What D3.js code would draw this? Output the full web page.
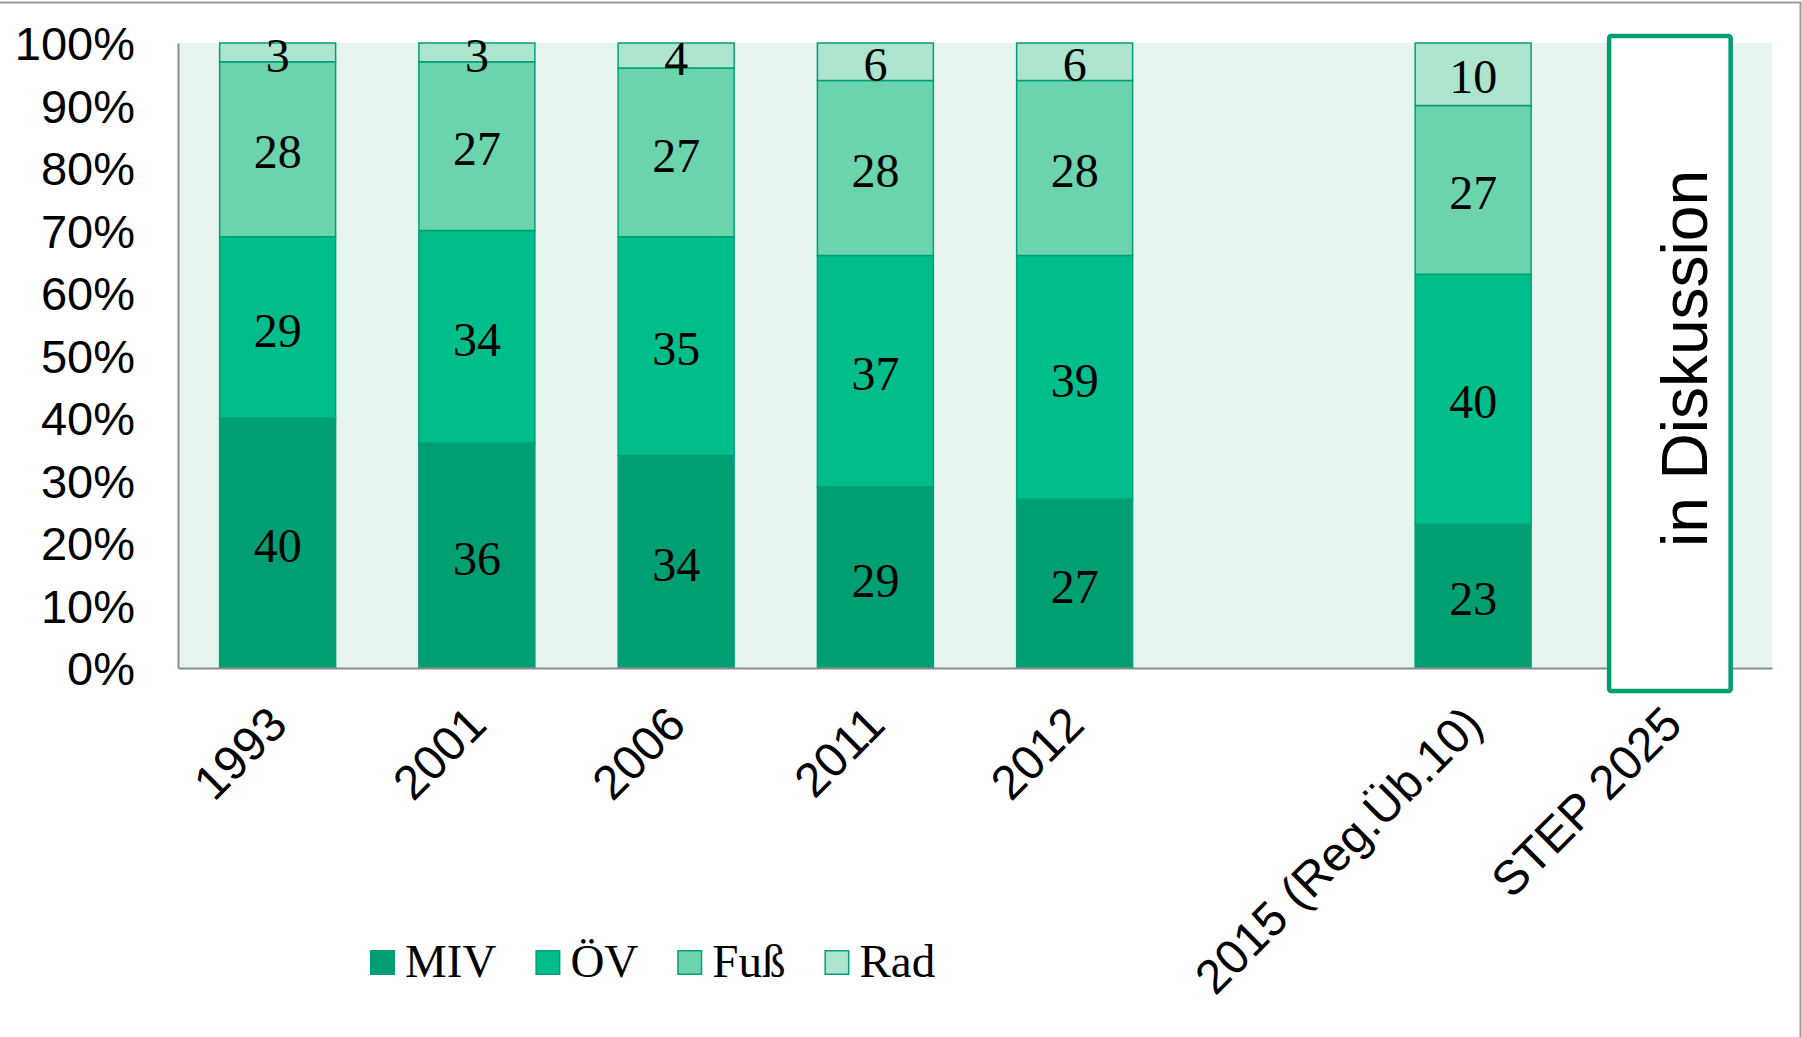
<!DOCTYPE html>
<html>
<head>
<meta charset="utf-8">
<script src="https://cdn.jsdelivr.net/npm/d3@7"></script>
<style>
  html, body { margin: 0; padding: 0; background: #ffffff; }
  svg { display: block; }
</style>
</head>
<body>
<svg id="chart" width="1802" height="1037"></svg>
<script>
// ---- data ----
const categories = ["1993", "2001", "2006", "2011", "2012", "", "2015 (Reg.Üb.10)", "STEP 2025"];
const seriesNames = ["MIV", "ÖV", "Fuß", "Rad"];
const miv = [40, 36, 34, 29, 27, null, 23, null];
const oev = [29, 34, 35, 37, 39, null, 40, null];
const fuss = [28, 27, 27, 28, 28, null, 27, null];
const rad = [3, 3, 4, 6, 6, null, 10, null];
const yTicks = [0, 10, 20, 30, 40, 50, 60, 70, 80, 90, 100];
const annotationCategory = "STEP 2025";
const annotationText = "in Diskussion";

const colors = ["#009E73", "#00BE8C", "#6BD4AD", "#ADE4CD"];
const seriesValues = [miv, oev, fuss, rad];

// ---- layout ----
const svg = d3.select("#chart");
const plot = { left: 178, right: 1772, top: 43, bottom: 668 };

// outer frame (top & right edges visible)
svg.append("rect")
  .attr("x", -3).attr("y", 2.5)
  .attr("width", 1803.5).attr("height", 1040)
  .attr("fill", "none").attr("stroke", "#9a9a9a").attr("stroke-width", 2);

const x = d3.scaleBand()
  .domain(categories)
  .range([plot.left, plot.right])
  .paddingInner(0.418)
  .paddingOuter(0.209);

const y = d3.scaleLinear()
  .domain([0, 100])
  .range([plot.bottom, plot.top]);

// plot background
svg.append("rect")
  .attr("x", plot.left).attr("y", plot.top)
  .attr("width", plot.right - plot.left).attr("height", plot.bottom - plot.top)
  .attr("fill", "#E6F5EE");

// stacked data
const rows = categories.map((c, i) => {
  const r = { cat: c };
  seriesNames.forEach((s, k) => r[s] = seriesValues[k][i]);
  return r;
}).filter(r => r.MIV != null);

const stack = d3.stack().keys(seriesNames);
const stacked = stack(rows);

const gBars = svg.append("g");
stacked.forEach((layer, k) => {
  const g = gBars.append("g");
  g.selectAll("rect")
    .data(layer)
    .join("rect")
    .attr("x", d => x(d.data.cat))
    .attr("y", d => y(d[1]))
    .attr("width", x.bandwidth())
    .attr("height", d => y(d[0]) - y(d[1]))
    .attr("fill", colors[k])
    .attr("stroke", "#00A077")
    .attr("stroke-width", 1.5);
  g.selectAll("text")
    .data(layer)
    .join("text")
    .attr("x", d => x(d.data.cat) + x.bandwidth() / 2)
    .attr("y", d => (y(d[0]) + y(d[1])) / 2)
    .attr("dy", "0.4em")
    .attr("text-anchor", "middle")
    .attr("font-family", "'Liberation Serif', 'Times New Roman', serif")
    .attr("font-size", 48)
    .attr("fill", "#000")
    .text(d => d.data[seriesNames[k]]);
});

// y axis
const yAxis = d3.axisLeft(y)
  .tickValues(yTicks)
  .tickFormat(d => d + "%")
  .tickSize(0)
  .tickPadding(43);
const gy = svg.append("g")
  .attr("transform", `translate(${plot.left},0)`)
  .call(yAxis);
gy.select(".domain").attr("stroke", "#8c8c8c").attr("stroke-width", 2);
gy.selectAll("text")
  .attr("font-family", "'Liberation Sans', Arial, sans-serif")
  .attr("font-size", 47)
  .attr("fill", "#000")
  .attr("dy", "0.36em");

// x axis
const xAxis = d3.axisBottom(x).tickSize(0).tickSizeOuter(0);
const gx = svg.append("g")
  .attr("transform", `translate(0,${plot.bottom})`)
  .call(xAxis);
gx.select(".domain").attr("stroke", "#8c8c8c").attr("stroke-width", 2);
gx.selectAll("text")
  .attr("font-family", "'Liberation Sans', Arial, sans-serif")
  .attr("font-size", 48)
  .attr("fill", "#000")
  .attr("x", 0).attr("y", 0).attr("dy", 0)
  .attr("text-anchor", "end")
  .attr("transform", "translate(12,59) rotate(-45)");

// annotation box
const ax = x(annotationCategory) + x.bandwidth() / 2;
const boxW = x.step() * 0.61;
svg.append("rect")
  .attr("x", ax - 2.5 - boxW / 2)
  .attr("y", y(100) - 7)
  .attr("width", boxW)
  .attr("height", (y(0) + 23) - (y(100) - 7))
  .attr("rx", 2)
  .attr("fill", "#ffffff")
  .attr("stroke", "#009E73")
  .attr("stroke-width", 4.5);
svg.append("text")
  .attr("transform", `translate(${ax + 35},${y(50) + 3}) rotate(-90)`)
  .attr("text-anchor", "middle")
  .attr("font-family", "'Liberation Sans', Arial, sans-serif")
  .attr("font-size", 64)
  .attr("fill", "#000")
  .text(annotationText);

// legend
const legend = svg.append("g").attr("transform", "translate(370,950)");
let lx = 0;
seriesNames.forEach((s, k) => {
  const item = legend.append("g").attr("transform", `translate(${lx},0)`);
  item.append("rect")
    .attr("x", 0.75).attr("y", 0.75)
    .attr("width", 23.5).attr("height", 23.5)
    .attr("fill", colors[k])
    .attr("stroke", "#00A077").attr("stroke-width", 1.5);
  const t = item.append("text")
    .attr("x", 35).attr("y", 27)
    .attr("font-family", "'Liberation Serif', 'Times New Roman', serif")
    .attr("font-size", 47)
    .attr("fill", "#000")
    .text(s);
  lx += 35 + t.node().getComputedTextLength() + 39;
});
</script>
</body>
</html>
